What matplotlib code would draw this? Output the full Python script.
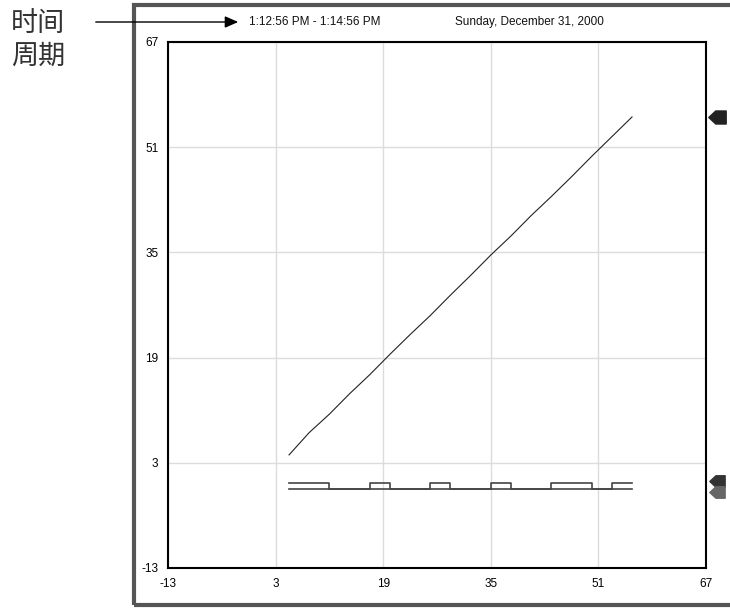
import matplotlib
matplotlib.use("Agg")
import matplotlib.pyplot as plt
from matplotlib.patches import Rectangle
from matplotlib.path import Path
import matplotlib.transforms as mtransforms

# ---- data ----
ticks = [-13, 3, 19, 35, 51, 67]
line_x = [5, 8, 11, 14, 17, 20, 23, 26, 29, 32, 35, 38, 41, 44, 47, 50, 53, 56]
line_y = [4.2, 7.6, 10.4, 13.5, 16.4, 19.5, 22.5, 25.4, 28.5, 31.5, 34.6, 37.5, 40.6, 43.5, 46.5, 49.6, 52.6, 55.6]
step_x = [5, 11, 17, 20, 26, 29, 35, 38, 44, 50, 53, 56]
step_y = [0, -1, 0, -1, 0, -1, 0, -1, 0, -1, 0, 0]
base_x = [5, 56]
base_y = [-1, -1]
period_text = "1:12:56 PM - 1:14:56 PM"
date_text = "Sunday, December 31, 2000"
side_label = "时间\n周期"

plt.rcParams['font.family'] = ['Liberation Sans Narrow', 'Liberation Sans', 'DejaVu Sans']

W, H = 730, 608
fig = plt.figure(figsize=(W / 100, H / 100), dpi=100)

def fx(px):
    return px / W

def fy(py):
    return 1 - py / H

# outer frame
fig.patches.append(Rectangle((fx(134), fy(605)), fx(800), fy(4.5) - fy(605),
                             transform=fig.transFigure, fill=False,
                             edgecolor='#555555', linewidth=3.0, zorder=0))

ax = fig.add_axes([fx(168), fy(568), fx(706) - fx(168), fy(42) - fy(568)])
ax.set_xlim(-13, 67)
ax.set_ylim(-13, 67)
ax.set_xticks(ticks)
ax.set_yticks(ticks)
ax.set_xticklabels([str(t) for t in ticks], fontsize=8.5)
ax.set_yticklabels([str(t) for t in ticks], fontsize=8.5)
ax.tick_params(length=0, pad=7)
ax.grid(True, color='#dcdcdc', linewidth=1.0)
ax.set_axisbelow(True)
for s in ax.spines.values():
    s.set_linewidth(1.5)
    s.set_color('black')

ax.plot(line_x, line_y, color='#222222', linewidth=0.8)
ax.plot(base_x, base_y, color='#444444', linewidth=1.2)
ax.step(step_x, step_y, where='post', color='#444444', linewidth=1.2)

# right side markers
trans = mtransforms.blended_transform_factory(ax.transAxes, ax.transData)
mk = Path([(-1, 0), (-0.2, 0.75), (1, 0.75), (1, -0.75), (-0.2, -0.75), (-1, 0)],
          [Path.MOVETO, Path.LINETO, Path.LINETO, Path.LINETO, Path.LINETO, Path.CLOSEPOLY])
ax.plot([1.021], [line_y[-1]], marker=mk, markersize=12.5, color='#222222',
        transform=trans, clip_on=False)
ax.plot([1.021], [step_y[-1] + 0.3], marker=mk, markersize=11, color='#333333',
        transform=trans, clip_on=False)
ax.plot([1.021], [base_y[-1] - 0.5], marker=mk, markersize=11, color='#666666',
        transform=trans, clip_on=False)

# header texts
fig.text(fx(249), fy(22), period_text, fontsize=8.5, va='center', ha='left', color='#111111')
fig.text(fx(455), fy(22), date_text, fontsize=8.5, va='center', ha='left', color='#111111')

# side label with arrow
fig.text(fx(38), fy(40), side_label, fontsize=19.5,
         family=['Noto Sans CJK SC', 'DejaVu Sans'], color='#333333',
         ha='center', va='center', linespacing=1.3)
fig.add_artist(matplotlib.patches.FancyArrowPatch(
    (fx(93), fy(22)), (fx(241), fy(22)), transform=fig.transFigure,
    arrowstyle='-|>,head_length=8,head_width=3.5', color='black', linewidth=1.0,
    mutation_scale=1))

fig.savefig('out.png', dpi=100)
